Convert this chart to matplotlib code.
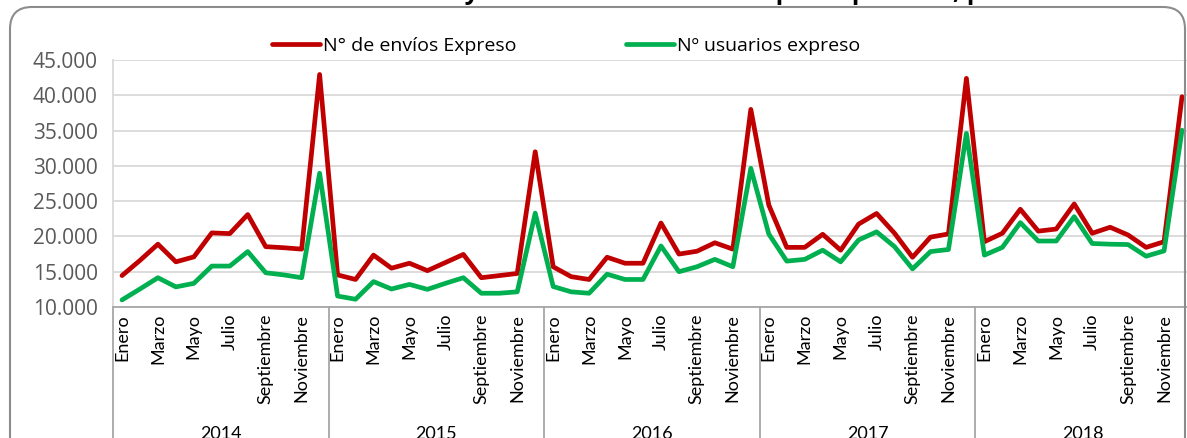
import matplotlib
matplotlib.use("Agg")
import matplotlib.pyplot as plt
from matplotlib.patches import FancyBboxPatch
from matplotlib.transforms import IdentityTransform, blended_transform_factory
import numpy as np

plt.rcParams["font.family"] = ["Open Sans", "DejaVu Sans"]

# Data
years = ["2014", "2015", "2016", "2017", "2018"]
months = ["Enero", "Febrero", "Marzo", "Abril", "Mayo", "Junio", "Julio",
          "Agosto", "Septiembre", "Octubre", "Noviembre", "Diciembre"]

envios = [14450, 16600, 18900, 16400, 17100, 20500, 20400, 23100, 18550, 18400, 18200, 42950,
          14550, 13900, 17350, 15500, 16200, 15150, 16300, 17450, 14150, 14450, 14750, 32000,
          15700, 14300, 13900, 17050, 16200, 16200, 21900, 17500, 17900, 19100, 18200, 38000,
          24450, 18450, 18450, 20300, 18050, 21750, 23250, 20450, 17050, 19900, 20350, 42400,
          19250, 20450, 23850, 20750, 21050, 24600, 20450, 21300, 20200, 18450, 19250, 39800]

usuarios = [11000, 12550, 14150, 12850, 13350, 15800, 15800, 17850, 14850, 14550, 14150, 28950,
            11550, 11100, 13600, 12550, 13200, 12500, 13350, 14150, 11950, 11950, 12150, 23300,
            12900, 12150, 11950, 14650, 13900, 13900, 18650, 15000, 15700, 16750, 15700, 29650,
            20350, 16500, 16750, 18050, 16400, 19500, 20650, 18550, 15400, 17850, 18150, 34600,
            17350, 18450, 21950, 19350, 19350, 22800, 19000, 18900, 18850, 17200, 17950, 35050]

yticks = [10000, 15000, 20000, 25000, 30000, 35000, 40000, 45000]

RED = "#C00000"
GREEN = "#00B050"

fig = plt.figure(figsize=(11.87, 4.38), dpi=100)
W, H = 1187, 438
ax = fig.add_axes([113 / W, 1 - 307 / H, 1078 / W, (307 - 60) / H])

x = np.arange(len(envios))
ax.plot(x, envios, color=RED, lw=3.4, solid_joinstyle="round", solid_capstyle="round",
        label="N° de envíos Expreso", zorder=3)
ax.plot(x, usuarios, color=GREEN, lw=3.4, solid_joinstyle="round", solid_capstyle="round",
        label="Nº usuarios expreso", zorder=3)

ax.set_xlim(-0.5, len(envios) - 0.5)
ax.set_ylim(yticks[0], yticks[-1])
ax.set_yticks(yticks)
ax.set_yticklabels([f"{v:,}".replace(",", ".") for v in yticks], color="#595959", fontsize=15)
ax.tick_params(axis="y", length=0, pad=11)
ax.grid(axis="y", color="#D9D9D9", lw=1.3)
ax.set_axisbelow(True)

# month labels (every other month)
mticks = list(range(0, len(envios), 2))
ax.set_xticks(mticks)
ax.set_xticklabels([months[i % 12] for i in mticks], rotation=90, fontsize=13,
                   family=["Lato", "DejaVu Sans"])
ax.tick_params(axis="x", length=0, pad=5)

for s in ["top", "right"]:
    ax.spines[s].set_visible(False)
ax.spines["left"].set_color("#D9D9D9")
ax.spines["left"].set_linewidth(1.3)
ax.spines["bottom"].set_color("#A6A6A6")
ax.spines["bottom"].set_linewidth(1.3)

# year group separators and labels
tr = blended_transform_factory(ax.transData, ax.transAxes)
for k in range(len(years) + 1):
    xb = k * 12 - 0.5
    ax.plot([xb, xb], [0, -0.7], transform=tr, color="#A6A6A6", lw=1.3, clip_on=False)
for k, yr in enumerate(years):
    ax.text(k * 12 + 5.5, -0.515, yr, transform=tr, ha="center", va="center",
            fontsize=13, family=["Lato", "DejaVu Sans"])

ax.legend(loc="center", bbox_to_anchor=(566 / W, 1 - 46 / H), bbox_transform=fig.transFigure,
          ncol=2, frameon=False, fontsize=14, handlelength=2.5, handletextpad=0.15,
          columnspacing=5.6)

# outer rounded frame
frame = FancyBboxPatch((10, -40), 1175, H - 7 + 40, boxstyle="round,pad=0,rounding_size=22",
                       transform=IdentityTransform(), fill=False, edgecolor="#8C8C8C", lw=1.5)
fig.add_artist(frame)

# title (mostly cut off at the top of the image)
fig.text(0.575, 1 + 1.5 / H, "N° de envíos y usuarios del servicio Expreso por mes, por año",
         ha="center", va="baseline", fontsize=18, fontweight="bold")

fig.savefig("out.png", dpi=100)
